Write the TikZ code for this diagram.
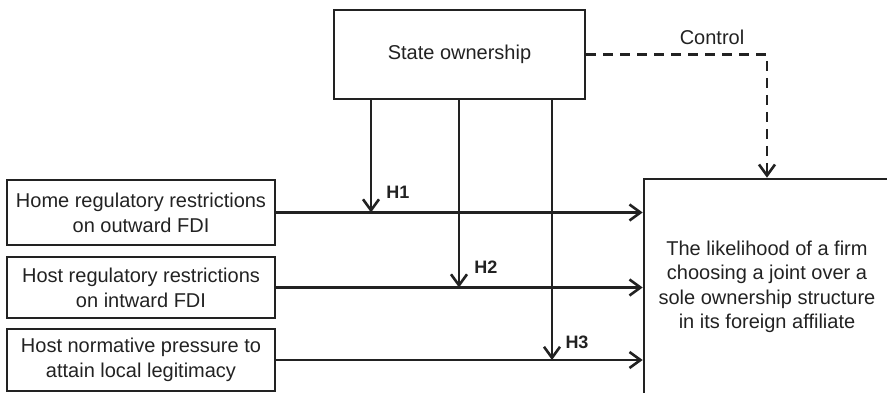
\documentclass[tikz,border=0pt]{standalone}
\usepackage{fontspec}
\setmainfont{Liberation Sans}
\usetikzlibrary{arrows.meta}
\definecolor{ink}{HTML}{222222}
\tikzset{
  box/.style={draw=ink, line width=2.6pt, inner sep=0pt, align=center, text=ink,
    font=\fontsize{20}{25}\selectfont},
  arr/.style={draw=ink, line width=2.6pt, -{Straight Barb[length=11pt,width=16pt,line width=2.6pt]}},
  ctrl/.style={arr, dash pattern=on 10pt off 7pt},
  hlab/.style={text=ink, font=\fontsize{18}{20}\selectfont\bfseries, inner sep=0pt},
  clab/.style={text=ink, font=\fontsize{20}{24}\selectfont, inner sep=0pt}
}
\begin{document}
\begin{tikzpicture}[x=1pt, y=-1pt]
\useasboundingbox (0,0) rectangle (887,393);
\clip (0,0) rectangle (887,393);
\node[box, minimum width=251pt, minimum height=89pt] (s) at (459.5,54.5) {State ownership};
\node[box, minimum width=268pt, minimum height=65pt] (b1) at (141,212.5) {Home regulatory restrictions\\on outward FDI};
\node[box, minimum width=268pt, minimum height=61pt] (b2) at (141,287.5) {Host regulatory restrictions\\on intward FDI};
\node[box, minimum width=268pt, minimum height=62pt] (b3) at (141,360) {Host normative pressure to\\attain local legitimacy};
\node[box, minimum width=246pt, minimum height=216pt, font=\fontsize{20}{24.5}\selectfont] (out) at (767,287) {The likelihood of a firm\\choosing a joint over a\\sole ownership structure\\in its foreign affiliate};
\coordinate (v1) at (371,0);
\coordinate (v2) at (459,0);
\coordinate (v3) at (552,0);
\coordinate (c) at (767,54.5);
\draw[arr] (b1.east) -- (b1.east -| out.west);
\draw[arr] (b2.east) -- (b2.east -| out.west);
\draw[arr] (b3.east) -- (b3.east -| out.west);
\draw[arr] (v1 |- s.south) -- (v1 |- b1.east);
\draw[arr] (v2 |- s.south) -- (v2 |- b2.east);
\draw[arr] (v3 |- s.south) -- (v3 |- b3.east);
\draw[ctrl] (s.east) -- (c) -- (out.north);
\node[hlab] (h1) at (398,192) {H1};
\node[hlab] (h2) at (486,267) {H2};
\node[hlab] (h3) at (577,342) {H3};
\node[clab] (cl) at (712,37) {Control};
\end{tikzpicture}
\end{document}
